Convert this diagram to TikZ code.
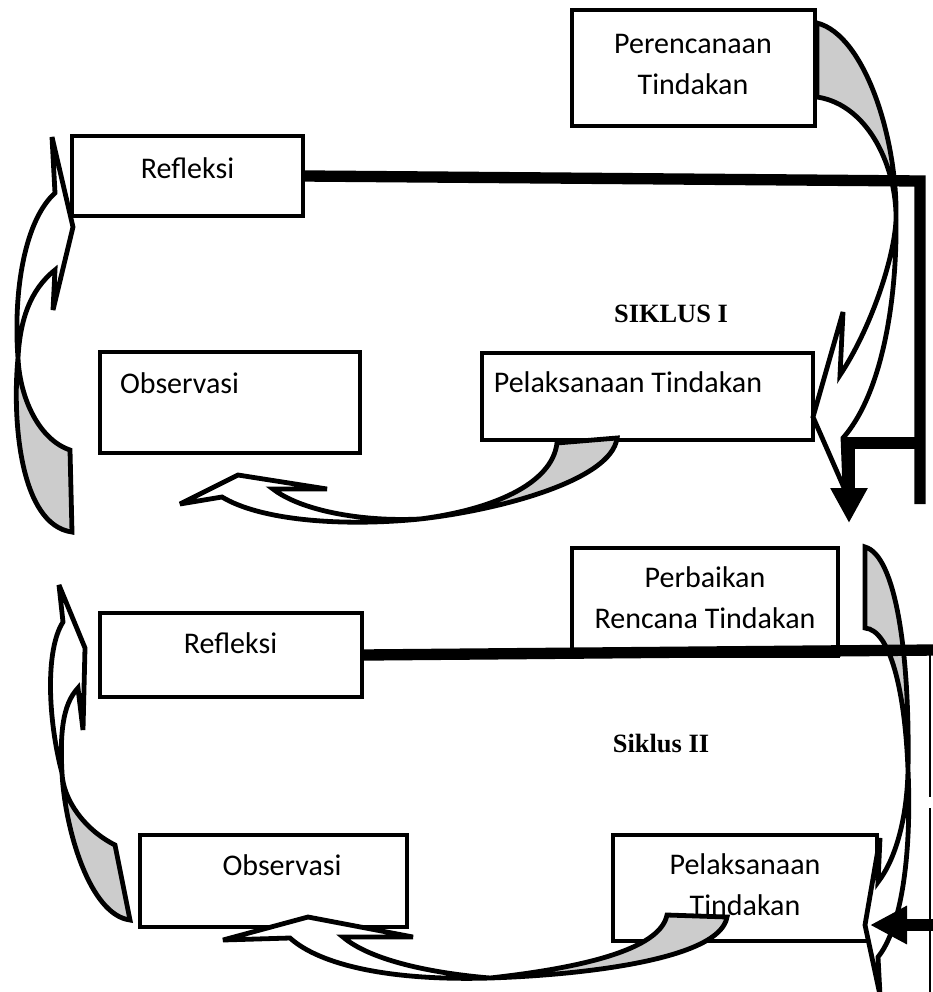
\documentclass[tikz,border=0pt]{standalone}
\usepackage{fontspec}
\setmainfont{Carlito}
\newfontfamily\labelfont{Liberation Serif}
\usetikzlibrary{arrows.meta}
\tikzstyle{cyclebox} = [draw=black, line width=2.6pt, fill=white, rectangle, inner sep=0pt]
\tikzstyle{boxtext} = [font=\fontsize{22.5}{30.75}\selectfont, inner sep=0pt, anchor=base, align=center]
\tikzstyle{cyclelabel} = [font=\labelfont\bfseries\fontsize{19.8}{24}\selectfont, inner sep=0pt, anchor=base]
\tikzstyle{bandback} = [draw=black, fill=gray!40, line width=3.6pt, line join=miter, miter limit=4]
\tikzstyle{bandfront} = [draw=black, fill=white, line width=3.6pt, line join=miter, miter limit=4]
\tikzstyle{link} = [draw=black, line width=8.5pt]
\tikzstyle{edgeline} = [draw=black, line width=2pt]
\begin{document}
\begin{tikzpicture}[x=0.75pt,y=-0.75pt]
\useasboundingbox (0,0) rectangle (932,992);
% siklus I
\node[cyclebox, minimum width=182.25pt, minimum height=87pt] (plan1) at (693.5,68) {};
\node[cyclebox, minimum width=173.25pt, minimum height=60pt] (refl1) at (187.5,176) {};
\node[cyclebox, minimum width=195pt, minimum height=75.75pt] (obs1) at (230,402.5) {};
\node[cyclebox, minimum width=248.25pt, minimum height=65.25pt] (act1) at (647.5,396.5) {};
\node[boxtext] (plan1t) at (693,94) {Perencanaan\\Tindakan};
\node[boxtext] (refl1t) at (187.5,178) {Refleksi};
\node[boxtext] (obs1t) at (179.5,393) {Observasi};
\node[boxtext] (act1t) at (628,392) {Pelaksanaan Tindakan};
\node[cyclelabel] (siklus1) at (671,322) {SIKLUS I};
% siklus II
\node[cyclebox, minimum width=199.5pt, minimum height=81pt] (plan2) at (705,602) {};
\node[cyclebox, minimum width=196.5pt, minimum height=63pt] (refl2) at (231,655) {};
\node[cyclebox, minimum width=200.25pt, minimum height=69pt] (obs2) at (273.5,881) {};
\node[cyclebox, minimum width=198pt, minimum height=79.5pt] (act2) at (745,888) {};
\node[boxtext] (plan2t) at (705,628) {Perbaikan\\Rencana Tindakan};
\node[boxtext] (refl2t) at (230.5,653) {Refleksi};
\node[boxtext] (obs2t) at (282,875) {Observasi};
\node[boxtext] (act2t) at (745,915) {Pelaksanaan\\Tindakan};
\node[cyclelabel] (siklus2) at (661,752) {Siklus II};
% curved arrows, siklus I
\draw[bandback] (817,23) .. controls (865,35) and (898,140) .. (896,220) .. controls (897,170) and (870,105) .. (817,97) -- cycle;
\draw[bandfront] (896,220) .. controls (894,260) and (870,330) .. (840,375) -- (843,312) -- (813,417) -- (845,490) -- (843,438) .. controls (885,390) and (897,290) .. (896,220) -- cycle;
\draw[bandback] (557,443) .. controls (552,485) and (490,510) .. (420,519) .. controls (500,510) and (612,480) .. (617,438) -- cycle;
\draw[bandfront] (420,519) .. controls (340,527) and (260,520) .. (222,497) -- (180,504) -- (238,475) -- (327,489) -- (273,489) .. controls (300,510) and (360,522) .. (420,519) -- cycle;
\draw[bandback] (70,450) .. controls (40,440) and (20,400) .. (18,358) .. controls (12,420) and (20,525) .. (72,532) -- cycle;
\draw[bandfront] (18,358) .. controls (13,290) and (25,220) .. (55,193) -- (52,137) -- (73,227) -- (53,310) -- (55,270) .. controls (30,290) and (20,320) .. (18,358) -- cycle;
% curved arrows, siklus II
\draw[bandback] (865,547) .. controls (895,555) and (910,650) .. (908,770) .. controls (905,690) and (890,630) .. (865,628) -- cycle;
\draw[bandfront] (908,770) .. controls (907,820) and (895,860) .. (878,882) -- (880,838) -- (865,925) -- (880,995) -- (878,957) .. controls (900,930) and (912,860) .. (908,770) -- cycle;
\draw[bandback] (667,915) .. controls (660,950) and (580,968) .. (490,978) .. controls (580,975) and (720,960) .. (727,917) -- cycle;
\draw[bandfront] (490,978) .. controls (390,981) and (320,965) .. (290,938) -- (223,940) -- (308,917) -- (413,937) -- (343,937) .. controls (370,960) and (430,973) .. (490,978) -- cycle;
\draw[bandback] (115,845) .. controls (85,830) and (63,800) .. (62,773) .. controls (65,830) and (90,915) .. (130,920) -- cycle;
\draw[bandfront] (62,773) .. controls (48,720) and (45,650) .. (63,622) -- (59,585) -- (85,648) -- (83,730) -- (78,688) .. controls (62,705) and (60,735) .. (62,773) -- cycle;
% links
\coordinate (r1) at (920,181);
\coordinate (r1end) at (920,504);
\coordinate (j1) at (920,443);
\coordinate (k1) at (849,443);
\coordinate (t1) at (849,523);
\draw[link] (refl1.east) -- (r1) -- (r1end);
\draw[link, -{Triangle[length=26.25pt,width=26.25pt]}] (j1) -- (k1) -- (t1);
\coordinate (r2) at (935,650);
\draw[link] (refl2.east) -- (r2);
\coordinate (s1) at (930,652);
\coordinate (s2) at (930,797);
\coordinate (s3) at (930,808);
\coordinate (s4) at (930,995);
\draw[edgeline] (s1) -- (s2);
\draw[edgeline] (s3) -- (s4);
\coordinate (e2) at (935,925);
\coordinate (t2) at (870,925);
\draw[link, -{Triangle[length=27.75pt,width=27pt]}] (e2) -- (t2);
\end{tikzpicture}
\end{document}
